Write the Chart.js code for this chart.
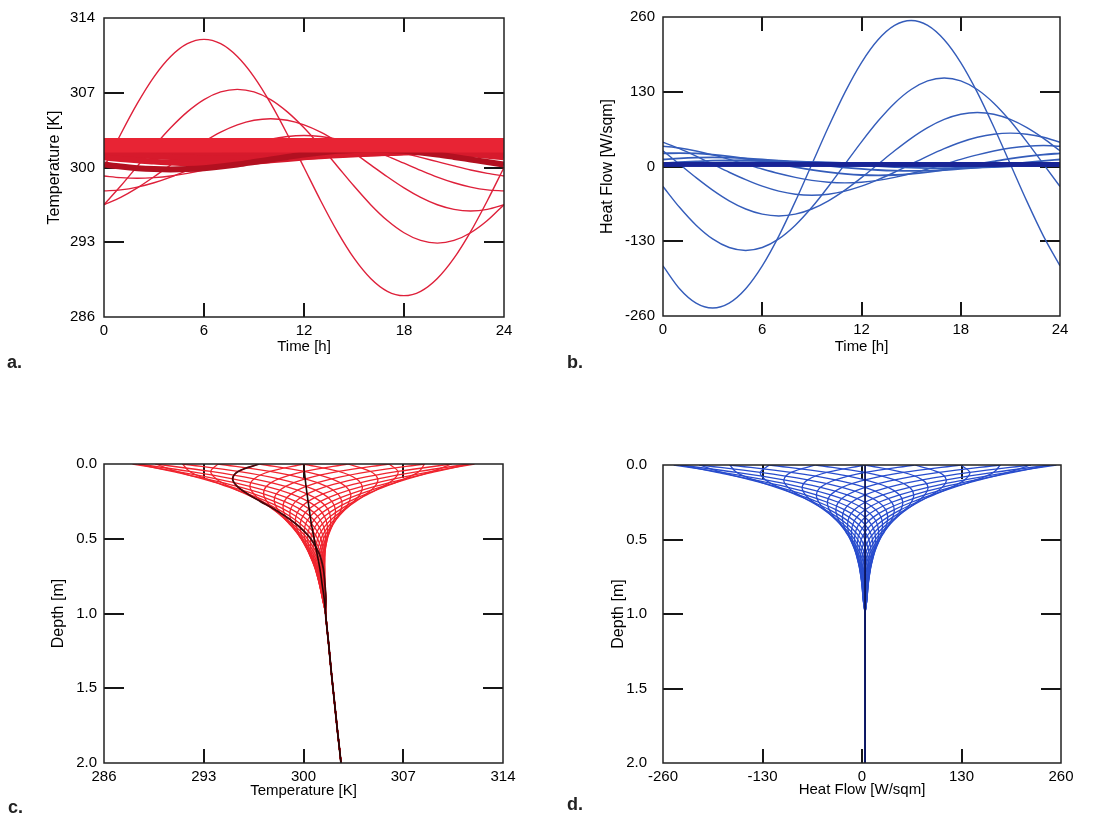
<!DOCTYPE html>
<html>
<head>
<meta charset="utf-8">
<script src="https://cdn.jsdelivr.net/npm/chart.js@4.4.1/dist/chart.umd.min.js"></script>
<style>
  body { margin: 0; background: #fff; width: 1097px; height: 818px; position: relative; overflow: hidden; font-family: 'Liberation Sans', Arial, sans-serif; }
  .panel { position: absolute; }
  .panel canvas { display: block; }
  .tag { position: absolute; font-weight: bold; font-size: 18px; line-height: 1; color: #222; }
</style>
</head>
<body>
<div class="panel" style="left:0;top:0"><canvas id="chartA" width="530" height="370"></canvas></div>
<div class="panel" style="left:560px;top:0"><canvas id="chartB" width="537" height="370"></canvas></div>
<div class="panel" style="left:0;top:440px"><canvas id="chartC" width="530" height="378"></canvas></div>
<div class="panel" style="left:560px;top:440px"><canvas id="chartD" width="537" height="378"></canvas></div>
<div class="tag" style="left:7px;top:353px">a.</div>
<div class="tag" style="left:567px;top:353px">b.</div>
<div class="tag" style="left:8px;top:798px">c.</div>
<div class="tag" style="left:567px;top:795px">d.</div>
<script>
  // axis ticks
  const timeTicks = [0, 6, 12, 18, 24];
  const tempTicks = [286, 293, 300, 307, 314];
  const flowTicks = [-260, -130, 0, 130, 260];
  const depthTicks = [0, 0.5, 1.0, 1.5, 2.0];

  // hours of the day (0..23), the 24 h point repeats hour 0
  const hours = [0, 1, 2, 3, 4, 5, 6, 7, 8, 9, 10, 11, 12, 13, 14, 15, 16, 17, 18, 19, 20, 21, 22, 23];

  // shallow layers [m] and their daily mean temperature [K]
  const depthsShallow = [0, 0.05, 0.1, 0.15, 0.2, 0.25, 0.3, 0.35, 0.4, 0.45, 0.5, 0.6, 0.7, 0.8, 0.9];
  const meanShallow = [300.0, 300.06, 300.12, 300.18, 300.25, 300.32, 300.4, 300.47, 300.55, 300.65, 300.75, 300.95, 301.15, 301.3, 301.45];

  // deep layers: no daily swing left
  const deepZ = [1.0, 1.1, 1.2, 1.3, 1.4, 1.5, 1.6, 1.7, 1.8, 1.9, 2.0];
  const deepT = [301.55, 301.65, 301.76, 301.86, 301.96, 302.07, 302.18, 302.29, 302.4, 302.52, 302.63];
  const deepQ = [4, 4, 4, 4, 4, 4, 4, 4, 4, 4, 4];

  // temperature [K] per layer, hour 0..23
  const T_00 = [300.00, 303.11, 306.00, 308.49, 310.39, 311.59, 312.00, 311.59, 310.39, 308.49, 306.00, 303.11, 300.00, 296.89, 294.00, 291.51, 289.61, 288.41, 288.00, 288.41, 289.61, 291.51, 294.00, 296.89];
  const T_05 = [297.65, 300.06, 302.47, 304.71, 306.63, 308.11, 309.04, 309.36, 309.04, 308.11, 306.63, 304.71, 302.47, 300.06, 297.65, 295.41, 293.49, 292.01, 291.08, 290.77, 291.08, 292.01, 293.49, 295.41];
  const T_10 = [296.52, 298.26, 300.12, 301.98, 303.72, 305.21, 306.36, 307.08, 307.32, 307.08, 306.36, 305.21, 303.72, 301.98, 300.12, 298.26, 296.52, 295.03, 293.89, 293.17, 292.92, 293.17, 293.89, 295.03];
  const T_15 = [296.24, 297.39, 298.74, 300.18, 301.62, 302.97, 304.12, 305.01, 305.57, 305.76, 305.57, 305.01, 304.12, 302.97, 301.62, 300.18, 298.74, 297.39, 296.24, 295.35, 294.79, 294.60, 294.79, 295.35];
  const T_20 = [296.51, 297.20, 298.09, 299.13, 300.25, 301.37, 302.41, 303.31, 303.99, 304.42, 304.57, 304.42, 303.99, 303.31, 302.41, 301.37, 300.25, 299.13, 298.09, 297.20, 296.51, 296.08, 295.93, 296.08];
  const T_25 = [297.09, 297.42, 297.95, 298.65, 299.45, 300.32, 301.19, 301.99, 302.69, 303.22, 303.55, 303.67, 303.55, 303.22, 302.69, 301.99, 301.19, 300.32, 299.45, 298.65, 297.95, 297.42, 297.09, 296.97];
  const T_30 = [297.81, 297.90, 298.16, 298.57, 299.10, 299.73, 300.40, 301.07, 301.70, 302.23, 302.65, 302.90, 302.99, 302.90, 302.65, 302.23, 301.70, 301.07, 300.40, 299.73, 299.10, 298.57, 298.16, 297.90];
  const T_35 = [298.53, 298.46, 298.53, 298.73, 299.05, 299.47, 299.95, 300.47, 300.99, 301.47, 301.89, 302.21, 302.41, 302.48, 302.41, 302.21, 301.89, 301.47, 300.99, 300.47, 299.95, 299.47, 299.05, 298.73];
  const T_40 = [299.20, 299.05, 298.99, 299.05, 299.20, 299.45, 299.77, 300.15, 300.55, 300.95, 301.33, 301.65, 301.90, 302.05, 302.11, 302.05, 301.90, 301.65, 301.33, 300.95, 300.55, 300.15, 299.77, 299.45];
  const T_45 = [299.80, 299.61, 299.49, 299.45, 299.49, 299.61, 299.80, 300.05, 300.34, 300.65, 300.96, 301.25, 301.50, 301.69, 301.81, 301.86, 301.81, 301.69, 301.50, 301.25, 300.96, 300.65, 300.34, 300.05];
  const T_50 = [300.28, 300.09, 299.94, 299.85, 299.82, 299.85, 299.94, 300.09, 300.28, 300.51, 300.75, 300.99, 301.22, 301.41, 301.56, 301.65, 301.68, 301.65, 301.56, 301.41, 301.22, 300.99, 300.75, 300.51];
  const T_60 = [300.95, 300.80, 300.67, 300.55, 300.47, 300.41, 300.39, 300.41, 300.47, 300.55, 300.67, 300.80, 300.95, 301.10, 301.23, 301.35, 301.44, 301.49, 301.51, 301.49, 301.44, 301.35, 301.23, 301.10];
  const T_70 = [301.32, 301.24, 301.15, 301.06, 300.98, 300.91, 300.86, 300.83, 300.81, 300.83, 300.86, 300.91, 300.98, 301.06, 301.15, 301.24, 301.32, 301.39, 301.44, 301.48, 301.49, 301.48, 301.44, 301.39];
  const T_80 = [301.48, 301.44, 301.40, 301.35, 301.30, 301.25, 301.20, 301.16, 301.13, 301.11, 301.10, 301.11, 301.13, 301.16, 301.20, 301.25, 301.30, 301.35, 301.40, 301.44, 301.48, 301.50, 301.50, 301.50];
  const T_90 = [301.57, 301.57, 301.56, 301.54, 301.51, 301.48, 301.45, 301.42, 301.39, 301.36, 301.35, 301.33, 301.33, 301.33, 301.35, 301.36, 301.39, 301.42, 301.45, 301.48, 301.51, 301.54, 301.56, 301.57];

  // heat flow [W/sqm] per layer, hour 0..23
  const Q_00 = [-172.8, -212.5, -237.5, -246, -237.5, -212.5, -172.8, -121, -60.7, 4, 68.7, 129, 180.8, 220.5, 245.5, 254, 245.5, 220.5, 180.8, 129, 68.7, 4, -60.7, -121];
  const Q_05 = [-92.8, -132.9, -163.7, -183.0, -189.6, -183.0, -163.7, -132.9, -92.8, -46.1, 4, 54.1, 100.8, 140.9, 171.7, 191.0, 197.6, 191.0, 171.7, 140.9, 100.8, 54.1, 4, -46.1];
  const Q_10 = [-34.8, -71, -102.1, -125.9, -140.9, -146, -140.9, -125.9, -102.1, -71, -34.8, 4, 42.8, 79, 110.1, 133.9, 148.9, 154, 148.9, 133.9, 110.1, 79, 42.8, 4];
  const Q_15 = [4, -26.1, -54.1, -78.2, -96.6, -108.2, -112.2, -108.2, -96.6, -78.2, -54.1, -26.1, 4, 34.1, 62.1, 86.2, 104.6, 116.2, 120.2, 116.2, 104.6, 86.2, 62.1, 34.1];
  const Q_20 = [27.3, 4, -19.3, -41, -59.6, -73.9, -82.9, -86, -82.9, -73.9, -59.6, -41, -19.3, 4, 27.3, 49, 67.6, 81.9, 90.9, 94, 90.9, 81.9, 67.6, 49];
  const Q_25 = [38.9, 22, 4, -14, -30.9, -45.3, -56.4, -63.3, -65.7, -63.3, -56.4, -45.3, -30.9, -14, 4, 22, 38.9, 53.3, 64.4, 71.3, 73.7, 71.3, 64.4, 53.3];
  const Q_30 = [42.2, 31, 18, 4, -10, -23, -34.2, -42.8, -48.2, -50, -48.2, -42.8, -34.2, -23, -10, 4, 18, 31, 42.2, 50.8, 56.2, 58, 56.2, 50.8];
  const Q_35 = [40.2, 33.6, 24.9, 14.8, 4, -6.8, -16.9, -25.6, -32.2, -36.4, -37.8, -36.4, -32.2, -25.6, -16.9, -6.8, 4, 14.8, 24.9, 33.6, 40.2, 44.4, 45.8, 44.4];
  const Q_40 = [35.3, 32.1, 26.9, 20.2, 12.4, 4, -4.4, -12.2, -18.9, -24.1, -27.3, -28.4, -27.3, -24.1, -18.9, -12.2, -4.4, 4, 12.4, 20.2, 26.9, 32.1, 35.3, 36.4];
  const Q_45 = [29.1, 28.2, 25.7, 21.7, 16.6, 10.5, 4, -2.5, -8.6, -13.7, -17.7, -20.2, -21.1, -20.2, -17.7, -13.7, -8.6, -2.5, 4, 10.5, 16.6, 21.7, 25.7, 28.2];
  const Q_50 = [22.8, 23.4, 22.8, 20.8, 17.7, 13.7, 9, 4, -1, -5.7, -9.7, -12.8, -14.8, -15.4, -14.8, -12.8, -9.7, -5.7, -1, 4, 9, 13.7, 17.7, 20.8];
  const Q_60 = [12.2, 14.1, 15.3, 15.7, 15.3, 14.1, 12.2, 9.8, 7, 4, 1, -1.8, -4.2, -6.1, -7.3, -7.7, -7.3, -6.1, -4.2, -1.8, 1, 4, 7, 9.8];
  const Q_70 = [5.8, 7.5, 8.9, 10.1, 10.8, 11, 10.8, 10.1, 8.9, 7.5, 5.8, 4, 2.2, 0.5, -0.9, -2.1, -2.8, -3, -2.8, -2.1, -0.9, 0.5, 2.2, 4];
  const Q_80 = [2.9, 4, 5.1, 6.1, 7, 7.6, 8.1, 8.2, 8.1, 7.6, 7, 6.1, 5.1, 4, 2.9, 1.9, 1, 0.4, -0.1, -0.2, -0.1, 0.4, 1, 1.9];
  const Q_90 = [2.2, 2.7, 3.3, 4, 4.7, 5.3, 5.8, 6.2, 6.4, 6.5, 6.4, 6.2, 5.8, 5.3, 4.7, 4, 3.3, 2.7, 2.2, 1.8, 1.6, 1.5, 1.6, 1.8];

  const tempRows = [T_00, T_05, T_10, T_15, T_20, T_25, T_30, T_35, T_40, T_45, T_50, T_60, T_70, T_80, T_90];
  const flowRows = [Q_00, Q_05, Q_10, Q_15, Q_20, Q_25, Q_30, Q_35, Q_40, Q_45, Q_50, Q_60, Q_70, Q_80, Q_90];

  Chart.defaults.font.family = "'Liberation Sans', Arial, sans-serif";
  Chart.defaults.font.size = 15;
  Chart.defaults.color = '#111';

  // box + inward ticks on all four sides
  const frame = {
    id: 'frame',
    beforeDatasetsDraw(chart) {
      const { ctx, chartArea: a, scales: { x, y } } = chart;
      ctx.save();
      ctx.strokeStyle = '#161616';
      ctx.lineWidth = 2;
      ctx.beginPath();
      x.ticks.forEach(t => {
        if (t.value === x.min || t.value === x.max) return;
        const px = Math.round(x.getPixelForValue(t.value));
        ctx.moveTo(px, a.top); ctx.lineTo(px, a.top + 14);
        ctx.moveTo(px, a.bottom); ctx.lineTo(px, a.bottom - 14);
      });
      y.ticks.forEach(t => {
        if (t.value === y.min || t.value === y.max) return;
        const py = Math.round(y.getPixelForValue(t.value));
        ctx.moveTo(a.left, py); ctx.lineTo(a.left + 20, py);
        ctx.moveTo(a.right, py); ctx.lineTo(a.right - 20, py);
      });
      ctx.stroke();
      ctx.restore();
    },
    afterDatasetsDraw(chart) {
      const { ctx, chartArea: a } = chart;
      ctx.save();
      ctx.strokeStyle = '#222';
      ctx.lineWidth = 1.5;
      ctx.strokeRect(a.left, a.top, a.right - a.left, a.bottom - a.top);
      ctx.restore();
    }
  };

  function axis(o, pos) {
    const horiz = pos === 'bottom';
    return {
      type: 'linear',
      position: pos,
      min: o.ticks[0],
      max: o.ticks[o.ticks.length - 1],
      reverse: !!o.reverse,
      grid: { display: false, drawTicks: false },
      border: { display: false },
      ticks: {
        padding: o.pad,
        autoSkip: false,
        maxRotation: 0,
        color: '#000',
        callback: o.fmt || (v => String(v))
      },
      afterBuildTicks: s => { s.ticks = o.ticks.map(v => ({ value: v })); },
      afterFit: s => { if (horiz) s.height = o.size; else s.width = o.size; },
      title: {
        display: true,
        text: o.title,
        color: '#000',
        font: { size: horiz ? 15 : 16 },
        padding: horiz ? { top: 0, bottom: o.titlePad } : { top: o.titlePad, bottom: 0 }
      }
    };
  }

  function line(points, color, width, mode) {
    return {
      data: points,
      borderColor: color,
      borderWidth: width,
      pointRadius: 0,
      fill: false,
      tension: mode === 'monotone' ? 0 : 0.35,
      cubicInterpolationMode: mode === 'monotone' ? 'monotone' : 'default'
    };
  }

  function makePanel(id, cfg) {
    return new Chart(document.getElementById(id), {
      type: 'line',
      data: { datasets: cfg.datasets },
      options: {
        responsive: false,
        animation: false,
        events: [],
        layout: { padding: cfg.pad },
        plugins: { legend: { display: false }, tooltip: { enabled: false } },
        scales: { x: axis(cfg.x, 'bottom'), y: axis(cfg.y, 'left') }
      },
      plugins: [frame]
    });
  }

  // one layer over the day, hour 24 = hour 0
  function daySeries(row) {
    return hours.concat([24]).map(h => ({ x: h, y: row[h % 24] }));
  }
  // one hour over depth
  function profile(rows, h, deepVals) {
    return depthsShallow.map((z, i) => ({ x: rows[i][h], y: z }))
      .concat(deepZ.map((z, j) => ({ x: deepVals[j], y: z })));
  }
  const tenthLayer = z => Math.round(z * 100) % 10 === 0;

  // a. temperature over time
  const setsA = [];
  deepT.forEach(v => setsA.push(line([{ x: 0, y: v }, { x: 24, y: v }], 'rgb(232,36,52)', 3)));
  depthsShallow.forEach((z, i) => {
    if (!tenthLayer(z) || z < 0.45) return;
    setsA.push(line(daySeries(tempRows[i]), z < 0.55 ? 'rgb(178,16,32)' : 'rgb(214,26,44)', 6, 'monotone'));
  });
  depthsShallow.forEach((z, i) => {
    if (!tenthLayer(z) || z >= 0.45) return;
    setsA.push(line(daySeries(tempRows[i]), 'rgb(222,32,58)', 1.4, 'monotone'));
  });
  makePanel('chartA', {
    pad: { top: 17, right: 26, left: 0, bottom: 0 },
    x: { ticks: timeTicks, title: 'Time [h]', pad: 5, size: 53, titlePad: 14.5 },
    y: { ticks: tempTicks, title: 'Temperature [K]', pad: 9, size: 104, titlePad: 45.4 },
    datasets: setsA
  });

  // b. heat flow over time
  const setsB = [];
  deepQ.forEach(v => setsB.push(line([{ x: 0, y: v }, { x: 24, y: v }], 'rgb(24,36,150)', 4)));
  depthsShallow.forEach((z, i) => {
    if (!tenthLayer(z)) return;
    setsB.push(line(daySeries(flowRows[i]), 'rgb(52,92,186)', z < 0.45 ? 1.4 : 1.8, 'monotone'));
  });
  makePanel('chartB', {
    pad: { top: 17, right: 37, left: 0, bottom: 0 },
    x: { ticks: timeTicks, title: 'Time [h]', pad: 5, size: 54, titlePad: 14.5 },
    y: { ticks: flowTicks, title: 'Heat Flow [W/sqm]', pad: 8, size: 103, titlePad: 38.4 },
    datasets: setsB
  });

  const depthFmt = v => v.toFixed(1);

  // c. temperature profiles, one per hour
  const setsC = [];
  setsC.push(line(depthsShallow.map((z, i) => ({ x: meanShallow[i], y: z }))
    .concat(deepZ.map((z, j) => ({ x: deepT[j], y: z }))), 'rgb(40,5,5)', 1.6));
  setsC.push(line(profile(tempRows, 23, deepT), 'rgb(70,8,12)', 1.8));
  hours.forEach(h => setsC.push(line(profile(tempRows, h, deepT), 'rgb(240,36,46)', 1.3)));
  makePanel('chartC', {
    pad: { top: 24, right: 27, left: 0, bottom: 0 },
    x: { ticks: tempTicks, title: 'Temperature [K]', pad: 5, size: 55, titlePad: 18 },
    y: { ticks: depthTicks, title: 'Depth [m]', pad: 7, size: 104, titlePad: 48.9, reverse: true, fmt: depthFmt },
    datasets: setsC
  });

  // d. heat flow profiles, one per hour
  const setsD = [];
  setsD.push(line([{ x: deepQ[0], y: 0 }].concat(deepZ.map((z, j) => ({ x: deepQ[j], y: z }))), 'rgb(12,20,90)', 1.8));
  hours.forEach(h => setsD.push(line(profile(flowRows, h, deepQ), 'rgb(40,76,205)', 1.3)));
  makePanel('chartD', {
    pad: { top: 23, right: 36, left: 0, bottom: 0 },
    x: { ticks: flowTicks, title: 'Heat Flow [W/sqm]', pad: 5, size: 55, titlePad: 19 },
    y: { ticks: depthTicks, title: 'Depth [m]', pad: 16, size: 103, titlePad: 48.9, reverse: true, fmt: depthFmt },
    datasets: setsD
  });
</script>
</body>
</html>
